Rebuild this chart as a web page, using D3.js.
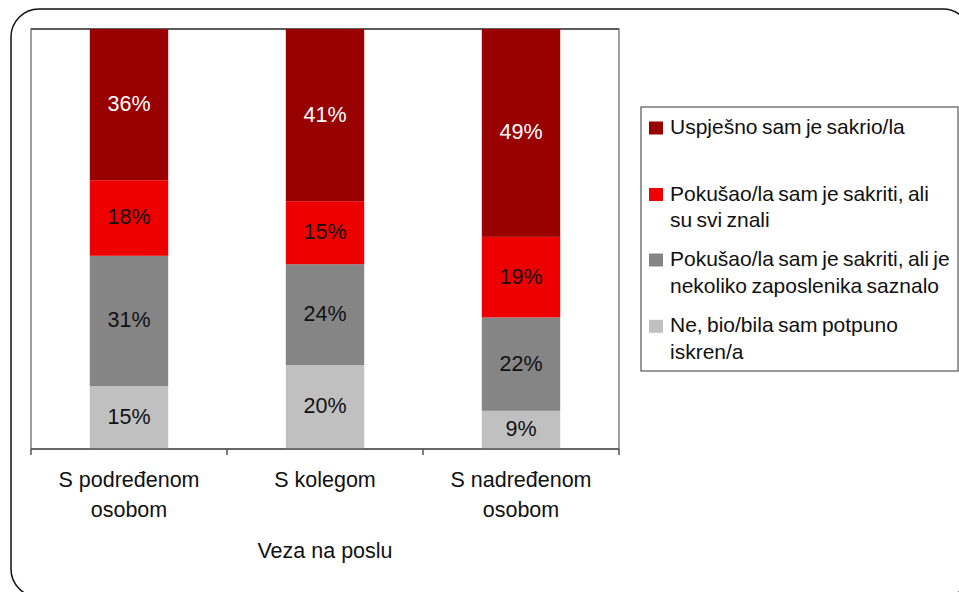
<!DOCTYPE html>
<html>
<head>
<meta charset="utf-8">
<script src="https://cdn.jsdelivr.net/npm/d3@7"></script>
<style>
  html, body { margin: 0; padding: 0; background: #fff; }
  svg { display: block; font-family: "Liberation Sans", Arial, sans-serif; }
</style>
</head>
<body>
<svg id="chart" width="959" height="592"></svg>
<script>
// ---- data ----
const categories = [["S podređenom", "osobom"], ["S kolegom"], ["S nadređenom", "osobom"]];
const seriesNames = [
  "Ne, bio/bila sam potpuno iskren/a",
  "Pokušao/la sam je sakriti, ali je nekoliko zaposlenika saznalo",
  "Pokušao/la sam je sakriti, ali su svi znali",
  "Uspješno sam je sakrio/la"
];
const honest   = [15, 20, 9];
const fewKnew  = [31, 24, 22];
const allKnew  = [18, 15, 19];
const hidden   = [36, 41, 49];
const legendLines = [
  ["Uspješno sam je sakrio/la"],
  ["Pokušao/la sam je sakriti, ali", "su svi znali"],
  ["Pokušao/la sam je sakriti, ali je", "nekoliko zaposlenika saznalo"],
  ["Ne, bio/bila sam potpuno", "iskren/a"]
];
const xTitle = "Veza na poslu";

// ---- styles ----
const colors = ["#c0c0c0", "#858585", "#ee0000", "#990000"];
const labelColors = ["#111", "#111", "#111", "#fff"];

const svg = d3.select("#chart");
const fontSize = 21.5;

// outer rounded frame
svg.append("rect")
  .attr("x", 11).attr("y", 9).attr("width", 960).attr("height", 588)
  .attr("rx", 28).attr("ry", 28)
  .attr("fill", "none").attr("stroke", "#111").attr("stroke-width", 1.5);

const plot = { left: 31, top: 29, right: 619, bottom: 449 };

const rows = categories.map((c, i) => ({
  idx: i, s0: honest[i], s1: fewKnew[i], s2: allKnew[i], s3: hidden[i]
}));
const stack = d3.stack().keys(["s0", "s1", "s2", "s3"]).offset(d3.stackOffsetExpand);
const stacked = stack(rows);

const x = d3.scaleBand().domain(d3.range(categories.length))
  .range([plot.left, plot.right]).paddingInner(0.6).paddingOuter(0.3);
const y = d3.scaleLinear().domain([0, 1]).range([plot.bottom, plot.top]);

// plot frame
svg.append("rect")
  .attr("x", plot.left).attr("y", plot.top)
  .attr("width", plot.right - plot.left).attr("height", plot.bottom - plot.top)
  .attr("fill", "none").attr("stroke", "#808080").attr("stroke-width", 1.5);
svg.append("line")
  .attr("x1", plot.left).attr("x2", plot.right)
  .attr("y1", plot.top).attr("y2", plot.top)
  .attr("stroke", "#444").attr("stroke-width", 1.5);

// bars
const layer = svg.append("g").selectAll("g").data(stacked).join("g")
  .attr("fill", (d, i) => colors[i]);
layer.selectAll("rect").data(d => d).join("rect")
  .attr("x", d => x(d.data.idx))
  .attr("width", x.bandwidth())
  .attr("y", d => y(d[1]))
  .attr("height", d => y(d[0]) - y(d[1]));

// value labels
const rawSeries = [honest, fewKnew, allKnew, hidden];
stacked.forEach((s, si) => {
  svg.append("g").selectAll("text").data(s).join("text")
    .attr("x", d => x(d.data.idx) + x.bandwidth() / 2)
    .attr("y", d => (y(d[0]) + y(d[1])) / 2)
    .attr("dy", "0.3em")
    .attr("text-anchor", "middle")
    .attr("font-size", fontSize)
    .attr("fill", labelColors[si])
    .text(d => rawSeries[si][d.data.idx] + "%");
});

// x axis line + ticks at band boundaries
const step = (plot.right - plot.left) / categories.length;
svg.append("line")
  .attr("x1", plot.left).attr("x2", plot.right)
  .attr("y1", plot.bottom).attr("y2", plot.bottom)
  .attr("stroke", "#555").attr("stroke-width", 1.5);
svg.append("g").selectAll("line").data(d3.range(categories.length + 1)).join("line")
  .attr("x1", i => plot.left + i * step).attr("x2", i => plot.left + i * step)
  .attr("y1", plot.bottom).attr("y2", plot.bottom + 6)
  .attr("stroke", "#555").attr("stroke-width", 1.5);

// category labels
const catG = svg.append("g");
categories.forEach((lines, i) => {
  const t = catG.append("text")
    .attr("text-anchor", "middle")
    .attr("font-size", fontSize)
    .attr("fill", "#111");
  lines.forEach((ln, li) => {
    t.append("tspan")
      .attr("x", x(i) + x.bandwidth() / 2)
      .attr("y", 487 + li * 30)
      .text(ln);
  });
});

// x title
svg.append("text")
  .attr("x", (plot.left + plot.right) / 2).attr("y", 558)
  .attr("text-anchor", "middle").attr("font-size", fontSize).attr("fill", "#111")
  .text(xTitle);

// legend
const legend = svg.append("g");
legend.append("rect")
  .attr("x", 641).attr("y", 107).attr("width", 317).attr("height", 264)
  .attr("fill", "#fff").attr("stroke", "#555").attr("stroke-width", 1.2);
const legendColors = [colors[3], colors[2], colors[1], colors[0]];
const entryBase = [134, 200.5, 266, 332.3];
legendLines.forEach((lines, i) => {
  legend.append("rect")
    .attr("x", 649).attr("y", entryBase[i] - 12.5)
    .attr("width", 14).attr("height", 13)
    .attr("fill", legendColors[i]);
  const t = legend.append("text")
    .attr("font-size", 21).attr("word-spacing", -1.5).attr("fill", "#111");
  lines.forEach((ln, li) => {
    t.append("tspan").attr("x", 670).attr("y", entryBase[i] + li * 26.5).text(ln);
  });
});
</script>
</body>
</html>
